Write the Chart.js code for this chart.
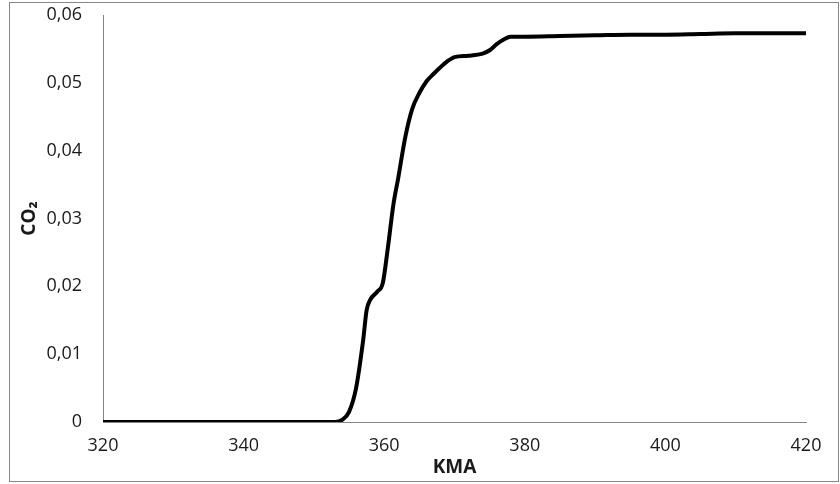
<!DOCTYPE html>
<html lang="en">
<head>
  <meta charset="UTF-8">
  <title>CO2 - KMA</title>
  <script src="https://cdn.jsdelivr.net/npm/chart.js"></script>
  <style>
    body {
      margin: 0;
      background: #fff;
    }
    #wrap {
      width: 840px;
      height: 484px;
    }
  </style>
</head>
<body>

  <div id="wrap">
    <canvas id="co2Chart" width="840" height="484"></canvas>
  </div>

  <script>
    // values
    const kma = [320, 330, 340, 350, 353, 354, 355, 356, 357, 357.5, 358, 359, 359.8, 360.5, 361.3, 362, 363, 364, 365, 366, 367, 368, 369, 370, 372, 374, 375, 376, 377, 378, 380, 385, 390, 395, 400, 405, 410, 415, 420];
    const co2 = [0, 0, 0, 0, 0, 0.0003, 0.0015, 0.005, 0.012, 0.0165, 0.018, 0.0192, 0.0205, 0.0255, 0.032, 0.036, 0.042, 0.0462, 0.0485, 0.0502, 0.0513, 0.0523, 0.0532, 0.0538, 0.054, 0.0543, 0.0548, 0.0557, 0.0564, 0.0568, 0.0568, 0.0569, 0.057, 0.0571, 0.0571, 0.0572, 0.0573, 0.0573, 0.0573];
    const xTicks = [320, 340, 360, 380, 400, 420];
    const yTicks = [0, 0.01, 0.02, 0.03, 0.04, 0.05, 0.06];

    const points = kma.map((x, i) => ({ x: x, y: co2[i] }));

    // grey frame round the whole chart
    const framePlugin = {
      id: 'frame',
      beforeDraw(chart) {
        const ctx = chart.ctx;
        ctx.save();
        ctx.strokeStyle = '#868686';
        ctx.lineWidth = 1;
        ctx.strokeRect(9.5, 2.5, 829, 479);
        ctx.restore();
      }
    };

    const tickFont = { family: 'Open Sans', size: 18 };
    const titleFont = { family: 'Open Sans', size: 19, weight: 'bold' };

    new Chart(document.getElementById('co2Chart'), {
      type: 'line',
      data: {
        datasets: [{
          data: points,
          borderColor: '#000',
          borderWidth: 4,
          pointRadius: 0,
          cubicInterpolationMode: 'monotone',
          fill: false
        }]
      },
      options: {
        responsive: false,
        animation: false,
        layout: { padding: { left: 10, top: 15, right: 34, bottom: 2 } },
        plugins: {
          legend: { display: false },
          tooltip: { enabled: false }
        },
        scales: {
          x: {
            type: 'linear',
            min: 320,
            max: 420,
            afterBuildTicks: s => { s.ticks = xTicks.map(v => ({ value: v })); },
            afterFit: s => { s.height = 60; },
            grid: { display: false, drawTicks: false },
            border: { display: true, color: '#868686', width: 1 },
            ticks: { font: tickFont, color: '#1a1a1a', padding: 13, maxRotation: 0 },
            title: { display: true, text: 'KMA', font: titleFont, color: '#1a1a1a', padding: { top: 0, bottom: 3 } }
          },
          y: {
            min: 0,
            max: 0.06,
            afterBuildTicks: s => { s.ticks = yTicks.map(v => ({ value: v })); },
            afterFit: s => {
              s.width = 93;
              // tick padding would otherwise push the plot top down
              s.paddingTop = 0;
              s.paddingBottom = 0;
            },
            grid: { display: false, drawTicks: false },
            border: { display: true, color: '#868686', width: 1 },
            ticks: {
              font: tickFont,
              color: '#1a1a1a',
              padding: 21,
              callback: v => v === 0 ? '0' : v.toFixed(2).replace('.', ',')
            },
            title: { display: true, text: 'CO₂', font: titleFont, color: '#1a1a1a', padding: { top: 8, bottom: 0 } }
          }
        }
      },
      plugins: [framePlugin]
    });
  </script>

</body>
</html>
